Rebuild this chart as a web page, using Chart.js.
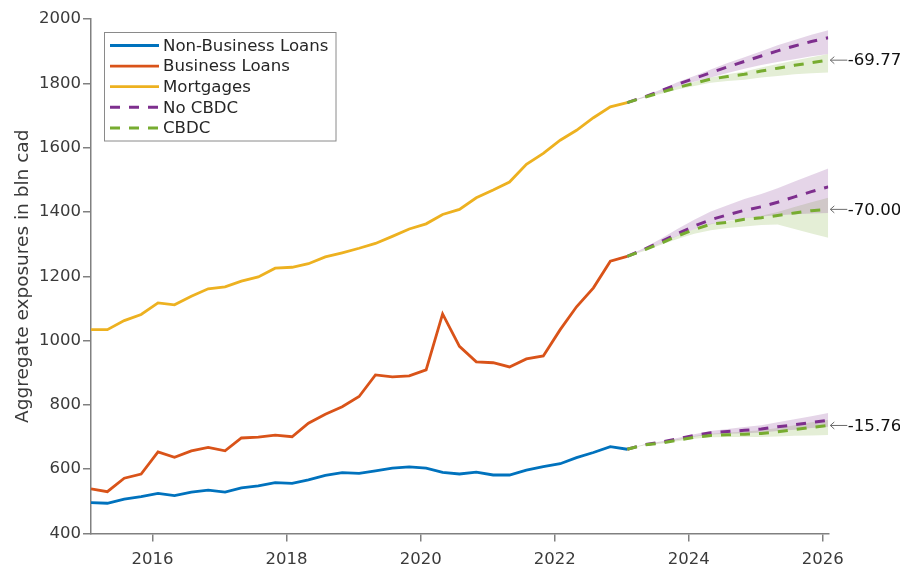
<!DOCTYPE html>
<html>
<head>
<meta charset="utf-8">
<script src="https://cdn.jsdelivr.net/npm/chart.js@4.4.1/dist/chart.umd.min.js"></script>
<style>
  html, body { margin: 0; padding: 0; background: #ffffff; }
  #wrap { width: 900px; height: 567px; }
</style>
</head>
<body>
<div id="wrap"><canvas id="chart" width="900" height="567"></canvas></div>
<script>
// Quarterly observation dates (end of Jan / Apr / Jul / Oct), 2015-01 to 2026-01
const quarterEnds = [];
for (let yr = 2015; yr <= 2026; yr++) {
  for (const md of ['01-31', '04-30', '07-31', '10-31']) {
    const d = yr + '-' + md;
    if (d <= '2026-01-31') quarterEnds.push(d);
  }
}
const histDates = quarterEnds.slice(0, 33);      // 2015-01 .. 2023-01
const forecastDates = quarterEnds.slice(32);     // 2023-01 .. 2026-01

const yearTicks = [2016, 2018, 2020, 2022, 2024, 2026];
const yTicks = [400, 600, 800, 1000, 1200, 1400, 1600, 1800, 2000];

// Historical aggregate exposures (bln CAD)
const nonBusinessLoans = [496, 494, 507, 515, 525, 518, 529, 535, 529, 542, 548, 558, 556, 567, 581, 589, 587,
  595, 603, 607, 603, 590, 585, 591, 582, 582, 597, 608, 617, 636, 652, 670, 662];
const businessLoans = [539, 530, 572, 585, 654, 637, 657, 668, 657, 697, 700, 706, 701, 743, 771, 794, 826,
  893, 887, 890, 909, 1083, 982, 934, 931, 918, 943, 952, 1034, 1105, 1164, 1247, 1262];
const mortgages = [1034, 1034, 1062, 1081, 1117, 1111, 1138, 1161, 1167, 1185, 1198, 1225, 1228, 1239, 1260, 1273, 1287,
  1302, 1324, 1347, 1363, 1392, 1408, 1444, 1468, 1493, 1548, 1582, 1623, 1654, 1693, 1727, 1740];

// Projections: No CBDC scenario
const nbNoCbdc = [662, 676, 684, 694, 705, 713, 717, 721, 725, 732, 738, 745, 751.76];
const nbNoCbdcHi = [662, 677, 686, 697, 709, 719, 725, 731, 737, 746, 755, 765, 775];
const nbNoCbdcLo = [662, 675, 682, 691, 701, 708, 710, 712, 714, 719, 723, 728, 732];
const blNoCbdc = [1262, 1283, 1307, 1332, 1356, 1376, 1391, 1405, 1416, 1430, 1447, 1463, 1478];
const blNoCbdcHi = [1262, 1287, 1316, 1347, 1376, 1401, 1421, 1440, 1456, 1474, 1495, 1515, 1535];
const blNoCbdcLo = [1262, 1281, 1302, 1325, 1346, 1362, 1372, 1380, 1386, 1390, 1393, 1395, 1397];
const mgNoCbdc = [1740, 1757, 1776, 1797, 1815, 1833, 1851, 1868, 1885, 1901, 1916, 1930, 1941.77];
const mgNoCbdcHi = [1740, 1759, 1780, 1803, 1823, 1843, 1863, 1881, 1900, 1918, 1935, 1951, 1965];
const mgNoCbdcLo = [1740, 1755, 1772, 1790, 1805, 1818, 1832, 1845, 1857, 1866, 1875, 1884, 1891];

// Projections: CBDC scenario
const nbCbdc = [662, 675, 681, 690, 699, 705, 707, 709, 711, 716, 723, 730, 736];
const nbCbdcHi = [662, 676, 683, 693, 703, 710, 713, 717, 721, 728, 737, 746, 754];
const nbCbdcLo = [662, 674, 679, 687, 695, 699, 700, 700, 700, 702, 704, 705, 706];
const blCbdc = [1262, 1281, 1302, 1325, 1345, 1362, 1368, 1377, 1382, 1389, 1397, 1404, 1408];
const blCbdcHi = [1262, 1281, 1303, 1326, 1346, 1363, 1370, 1380, 1388, 1400, 1415, 1430, 1444];
const blCbdcLo = [1262, 1278, 1297, 1316, 1332, 1343, 1350, 1355, 1359, 1361, 1347, 1333, 1320];
const mgCbdc = [1740, 1756, 1771, 1787, 1800, 1813, 1821, 1828, 1838, 1847, 1856, 1864, 1872];
const mgCbdcHi = [1740, 1757, 1773, 1790, 1804, 1818, 1828, 1837, 1849, 1860, 1871, 1881, 1891];
const mgCbdcLo = [1740, 1754, 1767, 1781, 1792, 1802, 1807, 1811, 1818, 1823, 1828, 1831, 1834];

const BLUE = '#0072BD', ORANGE = '#D95319', YELLOW = '#EDB120', PURPLE = '#7E2F8E', GREEN = '#77AC30';
const PURPLE_BAND = 'rgba(126,47,142,0.2)', GREEN_BAND = 'rgba(119,172,48,0.2)';
const FONT = "'DejaVu Sans', sans-serif";

function decimalYear(s) {
  const [y, m, d] = s.split('-').map(Number);
  const t0 = Date.UTC(y, 0, 1), t1 = Date.UTC(y + 1, 0, 1);
  return y + (Date.UTC(y, m - 1, d) - t0) / (t1 - t0);
}
const histX = histDates.map(decimalYear);
const fcX = forecastDates.map(decimalYear);
const pts = (xs, ys) => ys.map((v, i) => ({ x: xs[i], y: v }));

function line(values, xs, color, dashed, order) {
  return {
    data: pts(xs, values), borderColor: color, backgroundColor: color,
    borderWidth: dashed ? 3 : 2.8, borderDash: dashed ? [10, 9] : [],
    pointRadius: 0, tension: 0, fill: false, order: order
  };
}
function band(hi, lo, color) {
  return [
    { data: pts(fcX, hi), borderWidth: 0, borderColor: 'rgba(0,0,0,0)', pointRadius: 0, tension: 0,
      fill: '+1', backgroundColor: color, order: 10 },
    { data: pts(fcX, lo), borderWidth: 0, borderColor: 'rgba(0,0,0,0)', pointRadius: 0, tension: 0,
      fill: false, backgroundColor: 'rgba(0,0,0,0)', order: 10 }
  ];
}

const datasets = [
  ...band(mgNoCbdcHi, mgNoCbdcLo, PURPLE_BAND),
  ...band(mgCbdcHi, mgCbdcLo, GREEN_BAND),
  ...band(blNoCbdcHi, blNoCbdcLo, PURPLE_BAND),
  ...band(blCbdcHi, blCbdcLo, GREEN_BAND),
  ...band(nbNoCbdcHi, nbNoCbdcLo, PURPLE_BAND),
  ...band(nbCbdcHi, nbCbdcLo, GREEN_BAND),
  line(nonBusinessLoans, histX, BLUE, false, 3),
  line(businessLoans, histX, ORANGE, false, 3),
  line(mortgages, histX, YELLOW, false, 3),
  line(nbNoCbdc, fcX, PURPLE, true, 2),
  line(blNoCbdc, fcX, PURPLE, true, 2),
  line(mgNoCbdc, fcX, PURPLE, true, 2),
  line(nbCbdc, fcX, GREEN, true, 1),
  line(blCbdc, fcX, GREEN, true, 1),
  line(mgCbdc, fcX, GREEN, true, 1)
];

const legendItems = [
  { text: 'Non-Business Loans', color: BLUE, dash: [] },
  { text: 'Business Loans', color: ORANGE, dash: [] },
  { text: 'Mortgages', color: YELLOW, dash: [] },
  { text: 'No CBDC', color: PURPLE, dash: [10, 9] },
  { text: 'CBDC', color: GREEN, dash: [10, 9] }
];
const gapLabels = [
  { noCbdc: mgNoCbdc, cbdc: mgCbdc },
  { noCbdc: blNoCbdc, cbdc: blCbdc },
  { noCbdc: nbNoCbdc, cbdc: nbCbdc }
];

const overlay = {
  id: 'overlay',
  afterDraw(chart) {
    const ctx = chart.ctx;
    const xs = chart.scales.x, ys = chart.scales.y;
    ctx.save();
    // legend box
    ctx.fillStyle = '#ffffff';
    ctx.fillRect(104.5, 32.5, 231.5, 108.5);
    ctx.strokeStyle = '#8a8a8a';
    ctx.lineWidth = 1;
    ctx.strokeRect(104.5, 32.5, 231.5, 108.5);
    ctx.font = '16.6px ' + FONT;
    ctx.textBaseline = 'middle';
    ctx.textAlign = 'left';
    legendItems.forEach((it, i) => {
      const y = 45.5 + i * 20.6;
      ctx.beginPath();
      ctx.setLineDash(it.dash);
      ctx.strokeStyle = it.color;
      ctx.lineWidth = it.dash.length ? 3 : 2.8;
      ctx.moveTo(110, y);
      ctx.lineTo(159, y);
      ctx.stroke();
      ctx.setLineDash([]);
      ctx.fillStyle = '#262626';
      ctx.fillText(it.text, 163, y + 1);
    });
    // end-of-horizon gap labels
    gapLabels.forEach(g => {
      const last = g.cbdc.length - 1;
      const diff = (g.cbdc[last] - g.noCbdc[last]).toFixed(2);
      const px = xs.getPixelForValue(fcX[last]);
      const py = ys.getPixelForValue(g.cbdc[last]);
      ctx.strokeStyle = '#6b6b6b';
      ctx.lineWidth = 1;
      ctx.beginPath();
      ctx.moveTo(px + 2, py);
      ctx.lineTo(px + 19, py);
      ctx.moveTo(px + 6, py - 3.5);
      ctx.lineTo(px + 2, py);
      ctx.lineTo(px + 6, py + 3.5);
      ctx.stroke();
      ctx.fillStyle = '#111111';
      ctx.font = '16.6px ' + FONT;
      ctx.textBaseline = 'middle';
      ctx.fillText(diff, px + 19.5, py + 1);
    });
    ctx.restore();
  }
};

new Chart(document.getElementById('chart'), {
  type: 'line',
  data: { datasets },
  options: {
    responsive: false,
    animation: false,
    devicePixelRatio: 1,
    layout: { padding: { top: 19, right: 71.7, left: 0, bottom: 0 } },
    plugins: { legend: { display: false }, tooltip: { enabled: false } },
    scales: {
      x: {
        type: 'linear',
        min: histX[0],
        max: fcX[fcX.length - 1],
        afterBuildTicks: s => { s.ticks = yearTicks.map(v => ({ value: v })); },
        afterFit: s => { s.height = 33.5; },
        ticks: { color: '#3a3a3a', font: { family: FONT, size: 16.5 }, padding: 8, maxRotation: 0,
          callback: v => String(v) },
        grid: { drawOnChartArea: false, drawTicks: true, tickLength: 8, color: '#808080', lineWidth: 1.5 },
        border: { display: true, color: '#808080', width: 1.5 }
      },
      y: {
        type: 'linear',
        min: 400,
        max: 2000,
        afterBuildTicks: s => { s.ticks = yTicks.map(v => ({ value: v })); },
        afterFit: s => { s.width = 91; },
        ticks: { color: '#3a3a3a', font: { family: FONT, size: 16.5 }, padding: 2,
          callback: v => String(v) },
        grid: { drawOnChartArea: false, drawTicks: true, tickLength: 8, color: '#808080', lineWidth: 1.5 },
        border: { display: true, color: '#808080', width: 1.5 },
        title: { display: true, text: 'Aggregate exposures in bln cad', color: '#3a3a3a',
          font: { family: FONT, size: 18.5 }, padding: { top: 12, bottom: 0 } }
      }
    }
  },
  plugins: [overlay]
});
</script>
</body>
</html>
